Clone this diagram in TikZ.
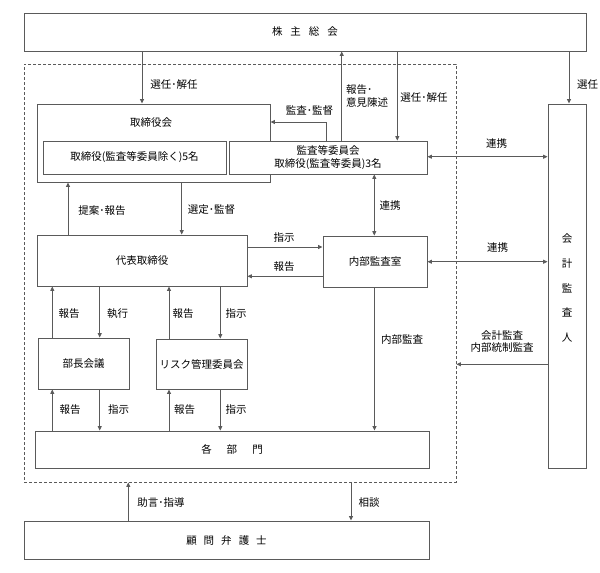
\documentclass[tikz,border=0pt]{standalone}
\usepackage{fontspec}
\setmainfont{Noto Sans CJK JP}
\usetikzlibrary{arrows.meta}
\definecolor{linec}{RGB}{90,90,90}
\tikzset{
  box/.style={draw=linec, line width=0.9pt, inner sep=0pt, align=center},
  arr/.style={draw=linec, line width=0.9pt, -{Triangle[length=4.5pt,width=4pt]}},
  darr/.style={draw=linec, line width=0.9pt, {Triangle[length=4.5pt,width=4pt]}-{Triangle[length=4.5pt,width=4pt]}},
  lbl/.style={inner sep=0pt, align=center, font=\fontsize{10.5}{12.4}\selectfont},
  every node/.append style={font=\fontsize{10.5}{12.4}\selectfont}
}
\begin{document}
\begin{tikzpicture}[x=1pt,y=-1pt]
\useasboundingbox (0,0) rectangle (600,573);
% outer dashed area
\node[draw=linec, line width=0.9pt, dash pattern=on 3pt off 2pt, minimum width=432pt, minimum height=418pt, inner sep=0pt] (outer) at (240,273) {};
% boxes
\node[box, minimum width=562pt, minimum height=38pt] (kabu) at (305,32) {株\hspace{8pt}主\hspace{8pt}総\hspace{8pt}会};
\node[box, minimum width=233pt, minimum height=78pt] (tori) at (153.5,143) {};
\node[lbl] (torilbl) at (151,123) {取締役会};
\node[box, minimum width=183pt, minimum height=33pt] (in5) at (134.5,157.5) {取締役(監査等委員除く)5名};
\node[box, fill=white, minimum width=198pt, minimum height=33pt] (kansa) at (328,157.5) {監査等委員会\\取締役(監査等委員)3名};
\node[box, minimum width=38pt, minimum height=364pt] (kaikei) at (567,286) {};
\node[lbl, font=\fontsize{10.5}{24.7}\selectfont] (kaikeilbl) at (567,288) {会\\計\\監\\査\\人};
\node[box, minimum width=210pt, minimum height=51pt] (daihyo) at (142,260.5) {代表取締役};
\node[box, minimum width=104pt, minimum height=51pt] (naibu) at (375,261.5) {内部監査室};
\node[box, minimum width=91pt, minimum height=51pt] (bucho) at (83.5,363.5) {部長会議};
\node[box, minimum width=91pt, minimum height=50pt] (risk) at (201.5,364) {リスク管理委員会};
\node[box, minimum width=394pt, minimum height=37pt] (kaku) at (232,449.5) {各\hspace{15pt}部\hspace{15pt}門};
\node[box, minimum width=405pt, minimum height=38pt] (komon) at (226.5,540) {顧\hspace{7pt}問\hspace{7pt}弁\hspace{7pt}護\hspace{7pt}士};
% connectors
\draw[arr] (142,0 |- kabu.south) -- (142,0 |- tori.north);
\draw[arr] (326,0 |- kansa.north) |- (tori.east |- 0,122);
\draw[arr] (341.7,0 |- kansa.north) -- (341.7,0 |- kabu.south);
\draw[arr] (397.3,0 |- kabu.south) -- (397.3,0 |- kansa.north);
\draw[arr] (569,0 |- kabu.south) -- (569,0 |- kaikei.north);
\draw[darr] (kansa.east |- 0,156.7) -- (kaikei.west |- 0,156.7);
\draw[arr] (68,0 |- daihyo.north) -- (68,0 |- tori.south);
\draw[arr] (181.7,0 |- tori.south) -- (181.7,0 |- daihyo.north);
\draw[darr] (374.3,0 |- kansa.south) -- (374.3,0 |- naibu.north);
\draw[arr] (daihyo.east |- 0,247) -- (naibu.west |- 0,247);
\draw[arr] (naibu.west |- 0,276.3) -- (daihyo.east |- 0,276.3);
\draw[darr] (naibu.east |- 0,261.7) -- (kaikei.west |- 0,261.7);
\draw[arr] (52.3,0 |- bucho.north) -- (52.3,0 |- daihyo.south);
\draw[arr] (99.7,0 |- daihyo.south) -- (99.7,0 |- bucho.north);
\draw[arr] (169,0 |- risk.north) -- (169,0 |- daihyo.south);
\draw[arr] (220.3,0 |- daihyo.south) -- (220.3,0 |- risk.north);
\draw[arr] (52.3,0 |- kaku.north) -- (52.3,0 |- bucho.south);
\draw[arr] (99.7,0 |- bucho.south) -- (99.7,0 |- kaku.north);
\draw[arr] (169,0 |- kaku.north) -- (169,0 |- risk.south);
\draw[arr] (220.3,0 |- risk.south) -- (220.3,0 |- kaku.north);
\draw[arr] (374.5,0 |- naibu.south) -- (374.5,0 |- kaku.north);
\draw[arr] (kaikei.west |- 0,364.3) -- (outer.east |- 0,364.3);
\draw[arr] (128.3,0 |- komon.north) -- (128.3,0 |- outer.south);
\draw[arr] (351,0 |- outer.south) -- (351,0 |- komon.north);
% labels
\node[lbl] (l1) at (174,85) {選任･解任};
\node[lbl] (l2) at (309.5,111) {監査･監督};
\node[lbl, align=left, anchor=west, font=\fontsize{10.5}{13.4}\selectfont] (l3) at (346,96) {報告･\\意見陳述};
\node[lbl] (l4) at (424,97.7) {選任･解任};
\node[lbl] (l5) at (587.5,85) {選任};
\node[lbl] (l6) at (496.5,143.3) {連携};
\node[lbl] (l7) at (102,210.3) {提案･報告};
\node[lbl] (l8) at (211.5,210) {選定･監督};
\node[lbl] (l9) at (390,205.7) {連携};
\node[lbl] (l10) at (284,237.7) {指示};
\node[lbl] (l11) at (284,266.3) {報告};
\node[lbl] (l12) at (497.5,247.7) {連携};
\node[lbl] (l13) at (69,313.7) {報告};
\node[lbl] (l14) at (117.5,313.7) {執行};
\node[lbl] (l15) at (183,313.7) {報告};
\node[lbl] (l16) at (236,313.7) {指示};
\node[lbl] (l17) at (402,340) {内部監査};
\node[lbl] (l18) at (502,341.5) {会計監査\\内部統制監査};
\node[lbl] (l19) at (70,409.7) {報告};
\node[lbl] (l20) at (118.5,409.7) {指示};
\node[lbl] (l21) at (184.5,409.7) {報告};
\node[lbl] (l22) at (236,409.7) {指示};
\node[lbl] (l23) at (161,502.7) {助言･指導};
\node[lbl] (l24) at (369,502.7) {相談};
\end{tikzpicture}
\end{document}
